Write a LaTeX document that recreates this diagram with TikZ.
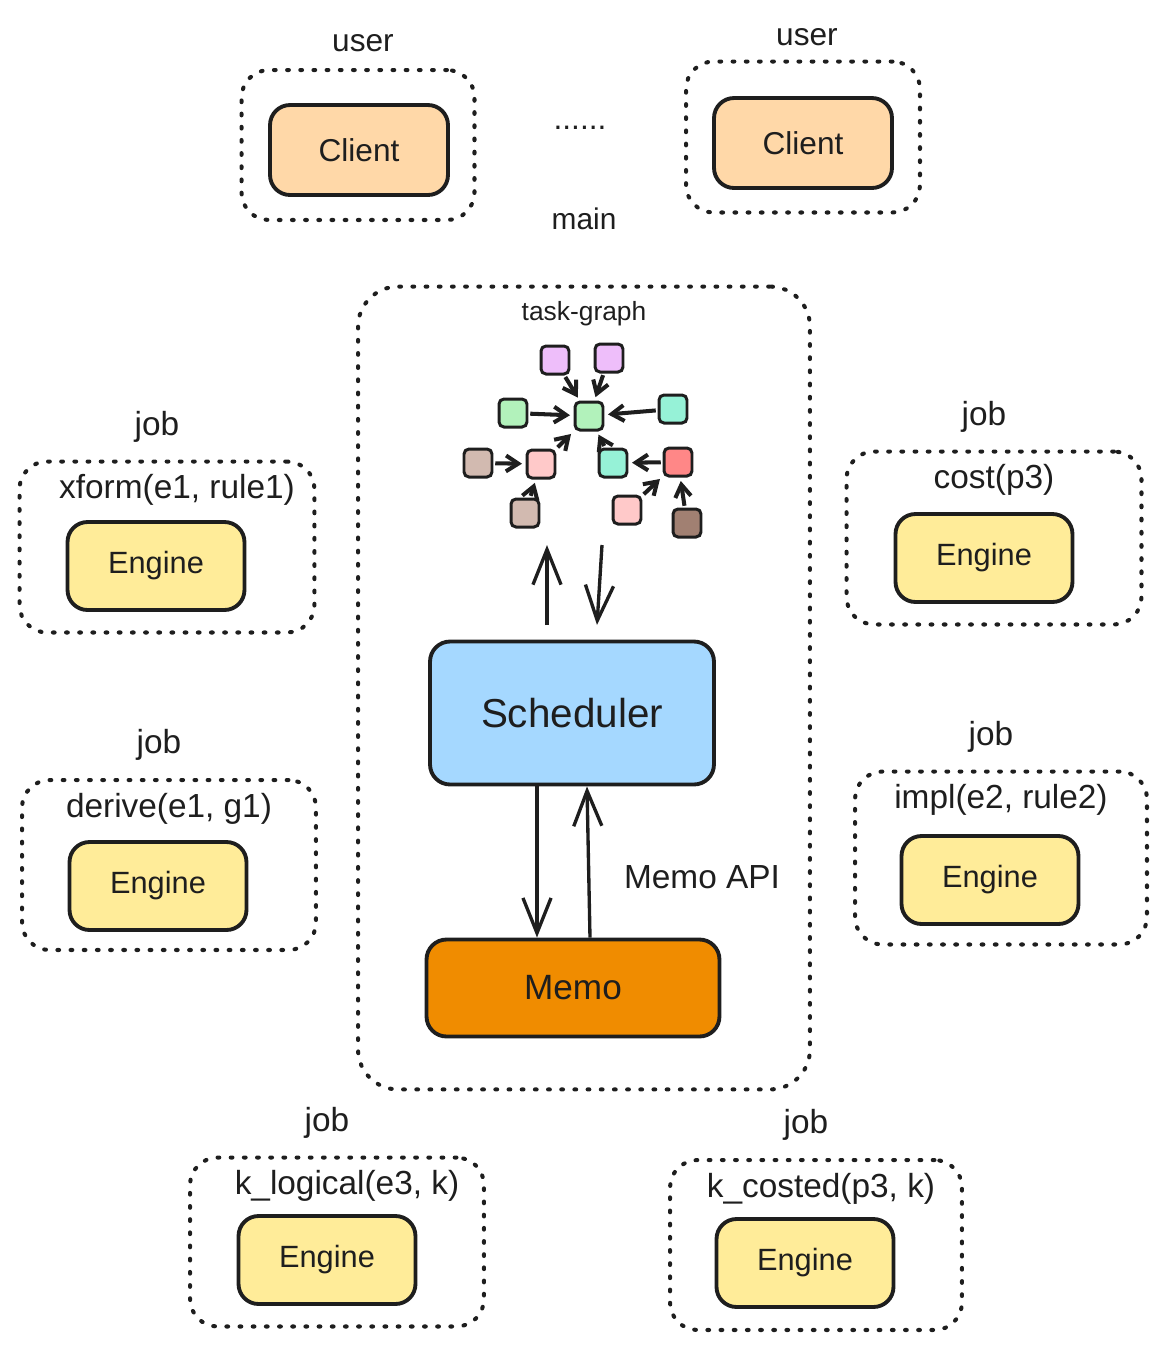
\documentclass[tikz,border=0pt]{standalone}
\usepackage{fontspec}
\setmainfont{Liberation Sans}
\usetikzlibrary{positioning}
\usetikzlibrary{arrows.meta}

\definecolor{ink}{HTML}{1E1E1E}
\definecolor{clientfill}{HTML}{FFD8A8}
\definecolor{enginefill}{HTML}{FFEC99}
\definecolor{schedfill}{HTML}{A5D8FF}
\definecolor{memofill}{HTML}{F08C00}
\definecolor{tviolet}{HTML}{EEBEFA}
\definecolor{tgreen}{HTML}{B2F2BB}
\definecolor{tteal}{HTML}{96F2D7}
\definecolor{tpink}{HTML}{FFC9C9}
\definecolor{tred}{HTML}{FF8787}
\definecolor{tbronze}{HTML}{D2BAB0}
\definecolor{tbrown}{HTML}{A18072}

\tikzset{
  box/.style={draw=ink, line width=2.2pt, rounded corners=0.4cm, text=ink},
  client/.style={box, fill=clientfill, minimum width=3.56cm, minimum height=1.8cm, font=\fontsize{18}{21}\selectfont},
  engine/.style={box, fill=enginefill, minimum width=3.54cm, minimum height=1.76cm, font=\fontsize{17.5}{20}\selectfont},
  group/.style={draw=ink, line width=2.3pt, dash pattern=on 1pt off 6.5pt, line cap=round, rounded corners=0.55cm},
  lbl/.style={font=\fontsize{18}{21}\selectfont, text=ink, inner sep=1pt},
  joblbl/.style={lbl, font=\fontsize{19}{22}\selectfont},
  task/.style={draw=ink, line width=1.7pt, rounded corners=0.1cm, minimum size=0.56cm, inner sep=0pt},
  tg/.style={-{Straight Barb[length=7pt,width=9pt]}, line width=2.3pt, draw=ink, shorten >=2pt, shorten <=1pt},
  big/.style={-{Straight Barb[length=20pt,width=16pt]}, line width=1.9pt, draw=ink},
}

\begin{document}
\begin{tikzpicture}[x=0.02cm, y=-0.02cm]
  \useasboundingbox (0,0) rectangle (1167,1350);

  % users
  \node[group, minimum width=4.66cm, minimum height=3cm] (u1) at (358,145) {};
  \node[lbl, above=0.28cm of u1, xshift=0.1cm] (u1l) {user};
  \node[client] (c1) at (359,150) {Client};
  \node[group, minimum width=4.68cm, minimum height=3.02cm] (u2) at (803,137) {};
  \node[lbl, above=0.24cm of u2, xshift=0.08cm] (u2l) {user};
  \node[client] (c2) at (803,143) {Client};
  \node[lbl] (more) at (580,128) {......};

  % main
  \node[group, minimum width=9.04cm, minimum height=16.06cm, rounded corners=0.8cm] (mb) at (584,688) {};
  \node[lbl, above=1.05cm of mb, font=\fontsize{17}{20}\selectfont] (mbl) {main};
  \node[lbl, below=0.3cm of mb.north, font=\fontsize{15}{18}\selectfont] (tgl) {task-graph};

  % task-graph
  \node[task, fill=tviolet] (pa) at (555,360) {}; %
  \node[task, fill=tviolet] (pb) at (609,358) {}; %
  \node[task, fill=tgreen] (gl) at (513,413) {}; %
  \node[task, fill=tgreen] (gc) at (589,416) {}; %
  \node[task, fill=tteal] (tr) at (673,409) {}; %
  \node[task, fill=tbronze] (bl) at (478,463) {}; %
  \node[task, fill=tpink] (pk) at (541,464) {}; %
  \node[task, fill=tteal] (tc) at (613,463) {}; %
  \node[task, fill=tred] (rd) at (678,462) {}; %
  \node[task, fill=tbronze] (bb) at (525,513) {}; %
  \node[task, fill=tpink] (pr) at (627,510) {}; %
  \node[task, fill=tbrown] (db) at (687,523) {}; %
  \draw[tg] (pa) -- (gc); \draw[tg] (pb) -- (gc); \draw[tg] (gl) -- (gc);
  \draw[tg] (tr) -- (gc); \draw[tg] (pk) -- (gc); \draw[tg] (tc) -- (gc);
  \draw[tg] (bl) -- (pk); \draw[tg] (bb) -- (pk); \draw[tg] (rd) -- (tc);
  \draw[tg] (pr) -- (rd); \draw[tg] (db) -- (rd);

  % scheduler and memo
  \node[box, fill=schedfill, minimum width=5.68cm, minimum height=2.86cm, font=\fontsize{23}{27}\selectfont] (sch) at (572,713) {Scheduler};
  \node[box, fill=memofill, minimum width=5.86cm, minimum height=1.94cm, font=\fontsize{20}{24}\selectfont] (memo) at (573,988) {Memo};
  \coordinate (a1) at (547,625); \coordinate (a2) at (547,545);
  \coordinate (b1) at (602,545); \coordinate (b2) at (597,625);
  \draw[big] (a1) -- (a2);
  \draw[big] (b1) -- (b2);
  \draw[big] (sch.south -| 537,0) -- (memo.north -| 537,0);
  \draw[big] (memo.north -| 590,0) -- (sch.south -| 587,0);
  \node[lbl, font=\fontsize{19}{22}\selectfont] (api) at (702,877) {Memo API};

  % jobs
  \node[group, minimum width=5.9cm, minimum height=3.42cm] (j1) at (167,547) {};
  \node[joblbl, above=0.3cm of j1, xshift=-0.2cm] {job};
  \node[joblbl, below=0.26cm of j1.north, xshift=0.2cm] {xform(e1, rule1)};
  \node[engine] (e1) at (156,566) {Engine};

  \node[group, minimum width=5.88cm, minimum height=3.4cm] (j2) at (169,865) {};
  \node[joblbl, above=0.3cm of j2, xshift=-0.2cm] {job};
  \node[joblbl, below=0.26cm of j2.north] {derive(e1, g1)};
  \node[engine] (e2) at (158,886) {Engine};

  \node[group, minimum width=5.9cm, minimum height=3.46cm] (j3) at (994,538) {};
  \node[joblbl, above=0.3cm of j3, xshift=-0.2cm] {job};
  \node[joblbl, below=0.26cm of j3.north] {cost(p3)};
  \node[engine] (e3) at (984,558) {Engine};

  \node[group, minimum width=5.84cm, minimum height=3.46cm] (j4) at (1001,858) {};
  \node[joblbl, above=0.3cm of j4, xshift=-0.2cm] {job};
  \node[joblbl, below=0.26cm of j4.north] {impl(e2, rule2)};
  \node[engine] (e4) at (990,880) {Engine};

  \node[group, minimum width=5.88cm, minimum height=3.38cm] (j5) at (337,1242) {};
  \node[joblbl, above=0.3cm of j5, xshift=-0.2cm] {job};
  \node[joblbl, below=0.26cm of j5.north, xshift=0.2cm] {k\_logical(e3, k)};
  \node[engine] (e5) at (327,1260) {Engine};

  \node[group, minimum width=5.84cm, minimum height=3.4cm] (j6) at (816,1245) {};
  \node[joblbl, above=0.3cm of j6, xshift=-0.2cm] {job};
  \node[joblbl, below=0.26cm of j6.north, xshift=0.1cm] {k\_costed(p3, k)};
  \node[engine] (e6) at (805,1263) {Engine};
\end{tikzpicture}
\end{document}
